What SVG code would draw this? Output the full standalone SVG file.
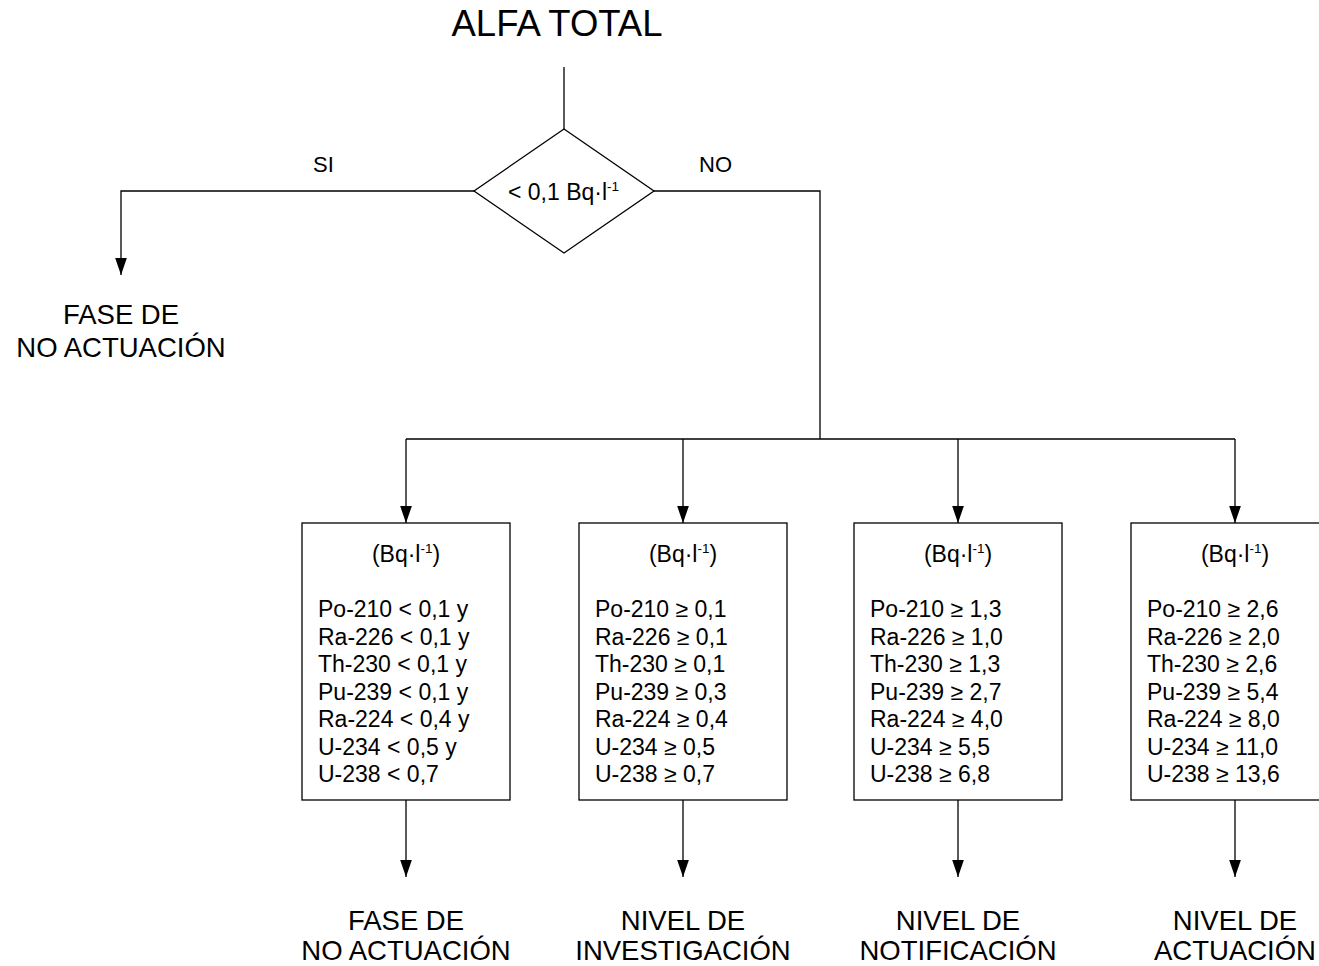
<svg xmlns="http://www.w3.org/2000/svg" width="1319" height="966" viewBox="0 0 1319 966">
<defs>
<style>
text{font-family:"Liberation Sans",Arial,sans-serif;fill:#000}
.t{font-size:23px}
.s{font-size:22px}
.lbl{font-size:27.5px;text-anchor:middle}
.ttl{font-size:36.5px;text-anchor:middle}
.c{text-anchor:middle}
.sup{font-size:13.5px}
.ln{fill:none;stroke:#000;stroke-width:1.3}
.box{fill:#fff;stroke:#000;stroke-width:1.3}
</style>
<marker id="ahd" markerUnits="userSpaceOnUse" markerWidth="17" markerHeight="12" refX="16" refY="5.5" orient="auto" viewBox="0 0 16 11">
<path d="M0,0 L16,5.5 L0,11 Z" fill="#000"/>
</marker>
</defs>
<rect width="1319" height="966" fill="#fff"/>
<g id="title"><text class="ttl" x="557" y="36">ALFA TOTAL</text></g>
<g id="connectors">
<path class="ln" d="M564,67 V129"/>
<path class="ln" d="M474,191 H121 V275" marker-end="url(#ahd)"/>
<path class="ln" d="M654,191 H820 V439"/>
<path class="ln" d="M406,439 H1235"/>
<path class="ln" d="M406,439 V523" marker-end="url(#ahd)"/>
<path class="ln" d="M683,439 V523" marker-end="url(#ahd)"/>
<path class="ln" d="M958,439 V523" marker-end="url(#ahd)"/>
<path class="ln" d="M1235,439 V523" marker-end="url(#ahd)"/>
<path class="ln" d="M406,800 V877" marker-end="url(#ahd)"/>
<path class="ln" d="M683,800 V877" marker-end="url(#ahd)"/>
<path class="ln" d="M958,800 V877" marker-end="url(#ahd)"/>
<path class="ln" d="M1235,800 V877" marker-end="url(#ahd)"/>
<text class="s" x="313" y="172">SI</text>
<text class="s" x="699" y="172">NO</text>
</g>
<g id="decision">
<polygon class="box" points="564,129 654,191 564,253 474,191"/>
<text class="t" x="508" y="200">&lt; 0,1 Bq·l<tspan class="sup" dy="-9">-1</tspan></text>
</g>
<g id="fase-left">
<text class="lbl" x="121" y="324">FASE DE</text>
<text class="lbl" x="121" y="357">NO ACTUACIÓN</text>
</g>
<g id="box1">
<rect class="box" x="302" y="523" width="208" height="277"/>
<text class="t c" x="406" y="562">(Bq·l<tspan class="sup" dy="-9">-1</tspan><tspan dy="9">)</tspan></text>
<text class="t" x="318" y="617">Po-210 &lt; 0,1 y</text>
<text class="t" x="318" y="644.5">Ra-226 &lt; 0,1 y</text>
<text class="t" x="318" y="672">Th-230 &lt; 0,1 y</text>
<text class="t" x="318" y="699.5">Pu-239 &lt; 0,1 y</text>
<text class="t" x="318" y="727">Ra-224 &lt; 0,4 y</text>
<text class="t" x="318" y="754.5">U-234 &lt; 0,5 y</text>
<text class="t" x="318" y="782">U-238 &lt; 0,7</text>
</g>
<g id="box2">
<rect class="box" x="579" y="523" width="208" height="277"/>
<text class="t c" x="683" y="562">(Bq·l<tspan class="sup" dy="-9">-1</tspan><tspan dy="9">)</tspan></text>
<text class="t" x="595" y="617">Po-210 ≥ 0,1</text>
<text class="t" x="595" y="644.5">Ra-226 ≥ 0,1</text>
<text class="t" x="595" y="672">Th-230 ≥ 0,1</text>
<text class="t" x="595" y="699.5">Pu-239 ≥ 0,3</text>
<text class="t" x="595" y="727">Ra-224 ≥ 0,4</text>
<text class="t" x="595" y="754.5">U-234 ≥ 0,5</text>
<text class="t" x="595" y="782">U-238 ≥ 0,7</text>
</g>
<g id="box3">
<rect class="box" x="854" y="523" width="208" height="277"/>
<text class="t c" x="958" y="562">(Bq·l<tspan class="sup" dy="-9">-1</tspan><tspan dy="9">)</tspan></text>
<text class="t" x="870" y="617">Po-210 ≥ 1,3</text>
<text class="t" x="870" y="644.5">Ra-226 ≥ 1,0</text>
<text class="t" x="870" y="672">Th-230 ≥ 1,3</text>
<text class="t" x="870" y="699.5">Pu-239 ≥ 2,7</text>
<text class="t" x="870" y="727">Ra-224 ≥ 4,0</text>
<text class="t" x="870" y="754.5">U-234 ≥ 5,5</text>
<text class="t" x="870" y="782">U-238 ≥ 6,8</text>
</g>
<g id="box4">
<rect class="box" x="1131" y="523" width="208" height="277"/>
<text class="t c" x="1235" y="562">(Bq·l<tspan class="sup" dy="-9">-1</tspan><tspan dy="9">)</tspan></text>
<text class="t" x="1147" y="617">Po-210 ≥ 2,6</text>
<text class="t" x="1147" y="644.5">Ra-226 ≥ 2,0</text>
<text class="t" x="1147" y="672">Th-230 ≥ 2,6</text>
<text class="t" x="1147" y="699.5">Pu-239 ≥ 5,4</text>
<text class="t" x="1147" y="727">Ra-224 ≥ 8,0</text>
<text class="t" x="1147" y="754.5">U-234 ≥ 11,0</text>
<text class="t" x="1147" y="782">U-238 ≥ 13,6</text>
</g>
<g id="out1">
<text class="lbl" x="406" y="930">FASE DE</text>
<text class="lbl" x="406" y="960">NO ACTUACIÓN</text>
</g>
<g id="out2">
<text class="lbl" x="683" y="930">NIVEL DE</text>
<text class="lbl" x="683" y="960">INVESTIGACIÓN</text>
</g>
<g id="out3">
<text class="lbl" x="958" y="930">NIVEL DE</text>
<text class="lbl" x="958" y="960">NOTIFICACIÓN</text>
</g>
<g id="out4">
<text class="lbl" x="1235" y="930">NIVEL DE</text>
<text class="lbl" x="1235" y="960">ACTUACIÓN</text>
</g>
</svg>
